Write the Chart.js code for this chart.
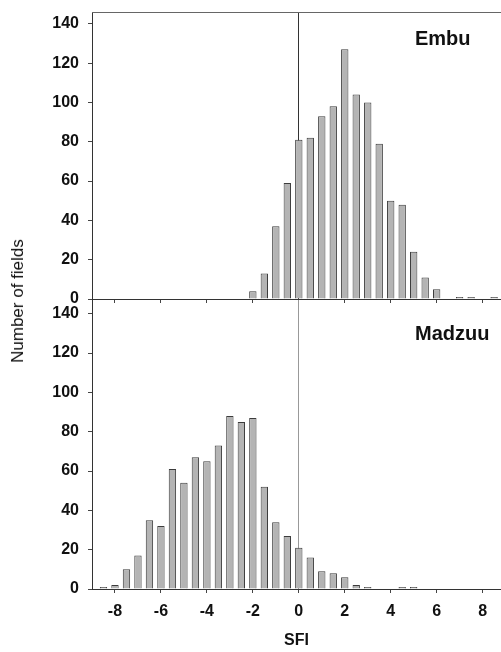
<!DOCTYPE html>
<html lang="en">
    <head>
        <meta charset="UTF-8" />
        <title>SFI distribution</title>
        <script src="https://cdn.jsdelivr.net/npm/chart.js@4.4.0/dist/chart.umd.min.js"></script>
        <style>
            body {
                margin: 0;
                background: #fff;
                width: 501px;
                height: 652px;
                position: relative;
                overflow: hidden;
                font-family: "Liberation Sans", Arial, sans-serif;
                color: #111;
            }
            .panel {
                position: absolute;
                left: 0;
                width: 501px;
            }
            /* canvases overlap a little; chart areas are 12-299 and 300-589 */
            #top-panel { top: -10px; height: 329px; }
            #bottom-panel { top: 280px; height: 372px; }
            .site {
                position: absolute;
                left: 415px;
                font-weight: bold;
                font-size: 20px;
                line-height: 1;
            }
            #ylabel {
                position: absolute;
                left: 18px;
                top: 301px;
                transform: translate(-50%, -50%) rotate(-90deg);
                white-space: nowrap;
                font-size: 17px;
            }
        </style>
    </head>
    <body>
        <div class="panel" id="top-panel"><canvas id="embu"></canvas></div>
        <div class="panel" id="bottom-panel"><canvas id="madzuu"></canvas></div>
        <div class="site" style="top: 28px">Embu</div>
        <div class="site" style="top: 323px">Madzuu</div>
        <div id="ylabel">Number of fields</div>

        <script>
            // SFI bin centres (0.5 wide bins) and number of fields per bin
            var binCenters = [-8.5, -8, -7.5, -7, -6.5, -6, -5.5, -5, -4.5, -4, -3.5, -3, -2.5, -2, -1.5, -1, -0.5,
                0, 0.5, 1, 1.5, 2, 2.5, 3, 3.5, 4, 4.5, 5, 5.5, 6, 6.5, 7, 7.5, 8, 8.5];
            var embuCounts = [0, 0, 0, 0, 0, 0, 0, 0, 0, 0, 0, 0, 0, 4, 13, 37, 59,
                81, 82, 93, 98, 127, 104, 100, 79, 50, 48, 24, 11, 5, 0, 1, 1, 0, 1];
            var madzuuCounts = [1, 2, 10, 17, 35, 32, 61, 54, 67, 65, 73, 88, 85, 87, 52, 34, 27,
                21, 16, 9, 8, 6, 2, 1, 0, 0, 1, 1, 0, 0, 0, 0, 0, 0, 0];
            var xTickValues = [-8, -6, -4, -2, 0, 2, 4, 6, 8];
            var yTickValues = [0, 20, 40, 60, 80, 100, 120, 140];

            var xMin = -9, xMax = 8.8;

            Chart.defaults.font.family = '"Liberation Sans", Arial, sans-serif';
            Chart.defaults.font.size = 16;
            Chart.defaults.font.weight = "bold";
            Chart.defaults.color = "#111";

            function toTicks(values) {
                return values.map(function (v) { return { value: v }; });
            }

            function histogram(id, counts, opts) {
                var points = binCenters.map(function (x, i) {
                    return { x: x, y: counts[i] ? counts[i] : null };
                });

                var scales = {
                    x: {
                        type: "linear",
                        min: xMin,
                        max: xMax,
                        offset: false,
                        afterBuildTicks: function (s) { s.ticks = toTicks(xTickValues); },
                        ticks: { display: opts.bottom, padding: 9 },
                        grid: {
                            offset: false,
                            color: function (c) {
                                return c.tick && c.tick.value === 0 ? opts.zeroColor : "rgba(0,0,0,0)";
                            },
                            tickColor: "#444",
                            tickLength: 4,
                        },
                        border: { color: "#333" },
                        title: {
                            display: opts.bottom,
                            text: "SFI",
                            padding: { top: 0, bottom: 2 },
                        },
                        afterFit: function (s) { s.height = opts.axisHeight; },
                    },
                    y: {
                        min: 0,
                        max: opts.yMax,
                        afterBuildTicks: function (s) { s.ticks = toTicks(yTickValues); },
                        ticks: { padding: 9 },
                        grid: { drawOnChartArea: false, tickColor: "#444", tickLength: 4 },
                        border: { color: "#333" },
                        afterFit: function (s) { s.width = 92; },
                    },
                };

                if (!opts.bottom) {
                    // top frame line of the upper panel
                    scales.x2 = {
                        type: "linear",
                        position: "top",
                        min: xMin,
                        max: xMax,
                        ticks: { display: false },
                        grid: { display: false },
                        border: { color: "#666" },
                        afterFit: function (s) { s.height = 0; },
                    };
                }

                return new Chart(id, {
                    type: "bar",
                    data: {
                        datasets: [
                            {
                                data: points,
                                backgroundColor: "#b4b4b4",
                                borderColor: "#3c3c3c",
                                borderWidth: 1,
                                categoryPercentage: 0.8,
                                barPercentage: 0.8,
                            },
                        ],
                    },
                    options: {
                        responsive: true,
                        maintainAspectRatio: false,
                        animation: false,
                        layout: { padding: { top: opts.padTop, left: 0, right: 0, bottom: 0 } },
                        scales: scales,
                        plugins: {
                            legend: { display: false },
                            tooltip: { enabled: false },
                        },
                    },
                });
            }

            histogram("embu", embuCounts, { bottom: false, zeroColor: "#333", yMax: 146, padTop: 22, axisHeight: 20 });
            histogram("madzuu", madzuuCounts, { bottom: true, zeroColor: "#999", yMax: 147, padTop: 20, axisHeight: 63 });
        </script>
    </body>
</html>
